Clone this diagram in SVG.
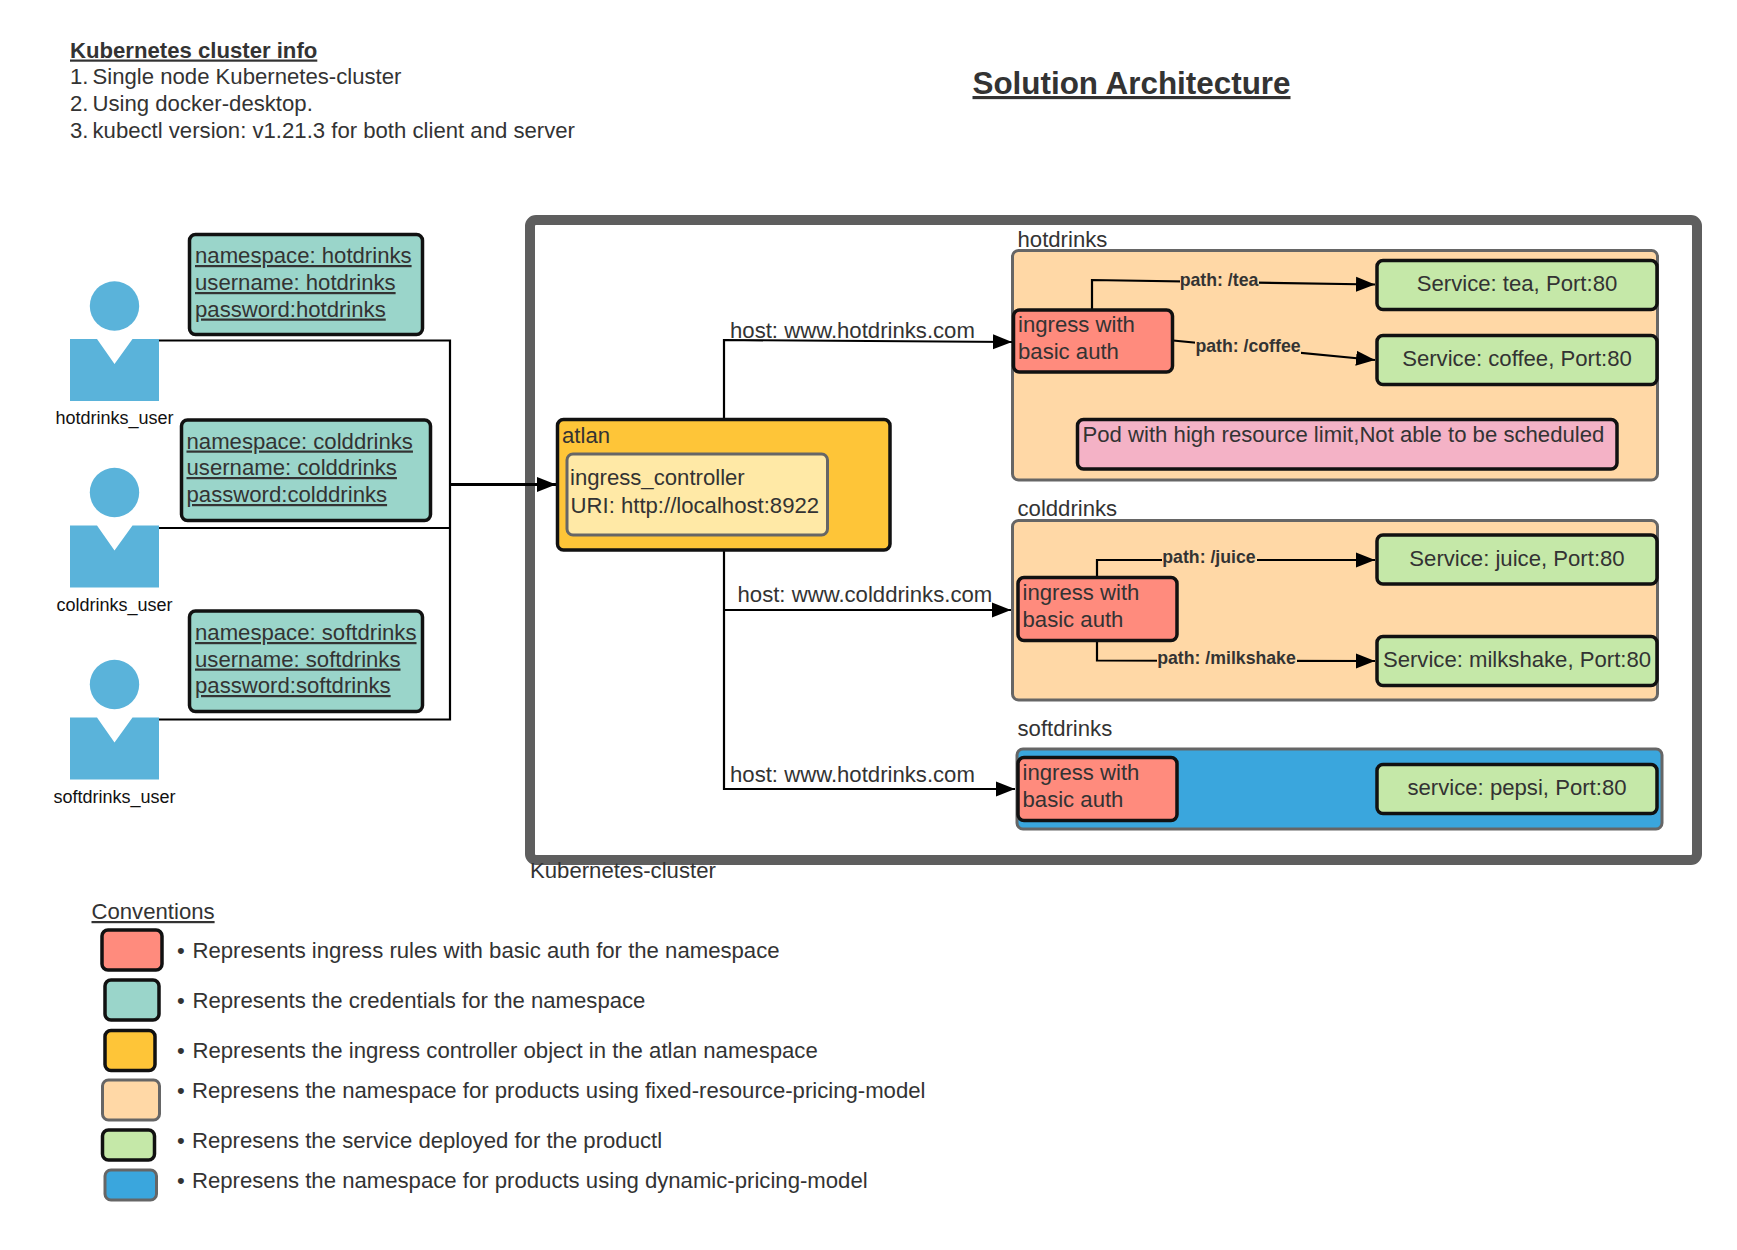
<svg xmlns="http://www.w3.org/2000/svg" width="1737" height="1250" viewBox="0 0 1737 1250">
<style>
text{font-family:"Liberation Sans",Arial,sans-serif;font-size:22.15px;fill:#333}
.u{text-decoration:underline}
.b{font-weight:700}
.c{text-anchor:middle}
.person{fill:#5ab3da;stroke:none}
.pl{font-size:18px;fill:#111;text-anchor:middle}
.path{font-size:17.7px;font-weight:700}
.cred{fill:#9ad5ca;stroke:#111;stroke-width:3.5}
.ing{fill:#ff8b7d;stroke:#111;stroke-width:3.5}
.svc{fill:#c5e8a8;stroke:#111;stroke-width:3.5}
.ns{fill:#ffd8a6;stroke:#666;stroke-width:3}
.blue{fill:#3aa6dd;stroke:#666;stroke-width:3}
.org{fill:#fec538;stroke:#111;stroke-width:3.5}
.line{fill:none;stroke:#000;stroke-width:2.2}
.lbg{fill:#ffd8a6;stroke:none}
</style>
<defs>
<marker id="a" markerUnits="userSpaceOnUse" markerWidth="20" markerHeight="16" refX="19" refY="8" orient="auto"><path d="M0 0.500L19 8L0 15.500Z" fill="#000"/></marker>
<symbol id="user" overflow="visible"><circle class="person" cx="44.5" cy="-33" r="24.7"/><path class="person" d="M0 0H27L44.5 25L62.5 0H89V62H0Z"/></symbol>
</defs>

<g id="info">
<text x="70" y="57.500" class="b u">Kubernetes cluster info</text>
<text x="70" y="84">1.</text><text x="92.500" y="84">Single node Kubernetes-cluster</text>
<text x="70" y="110.500">2.</text><text x="92.500" y="110.500">Using docker-desktop.</text>
<text x="70" y="137.500">3.</text><text x="92.500" y="137.500">kubectl version: v1.21.3 for both client and server</text>
</g>
<text id="title" x="1131.500" y="94" class="b u c" style="font-size:31.4px">Solution Architecture</text>

<g id="cluster"><rect x="530" y="220" width="1167" height="640" rx="6" fill="#fff" stroke="#5e5e5e" stroke-width="10"/>
<text x="530" y="877.500">Kubernetes-cluster</text></g>

<g id="hotdrinks-ns"><rect class="ns" x="1012.500" y="250.500" width="645" height="229.500" rx="6"/><text x="1017.500" y="247">hotdrinks</text></g>
<g id="colddrinks-ns"><rect class="ns" x="1012.500" y="520.500" width="645" height="179.500" rx="6"/><text x="1017.500" y="515.500">colddrinks</text></g>
<g id="softdrinks-ns"><rect class="blue" x="1017" y="749" width="645" height="80" rx="6"/><text x="1017.500" y="736">softdrinks</text></g>

<g id="connectors">
<path class="line" d="M159 340.500H450V719.500H159M159 528H450"/>
<path class="line" d="M450 484.500H556" style="stroke-width:3" marker-end="url(#a)"/>
<path class="line" d="M724 419V340L1012 342" marker-end="url(#a)"/>
<path class="line" d="M724 551V789H1015" marker-end="url(#a)"/>
<path class="line" d="M724 610H1011" marker-end="url(#a)"/>
<path class="line" d="M1092 309V280L1375 284.500" marker-end="url(#a)"/>
<path class="line" d="M1173 340.500L1375 360" marker-end="url(#a)"/>
<path class="line" d="M1097 577V560H1375" marker-end="url(#a)"/>
<path class="line" d="M1097 641V660.500L1375 661" marker-end="url(#a)"/>
<rect class="lbg" x="1180" y="270" width="79" height="20"/>
<rect class="lbg" x="1195" y="337" width="106" height="20"/>
<rect class="lbg" x="1162" y="549" width="95" height="20"/>
<rect class="lbg" x="1157" y="650" width="140" height="20"/>
<text class="path c" x="1219" y="285.500">path: /tea</text>
<text class="path c" x="1248" y="352">path: /coffee</text>
<text class="path c" x="1209" y="563">path: /juice</text>
<text class="path c" x="1226.500" y="664">path: /milkshake</text>
<text x="730" y="338">host: www.hotdrinks.com</text>
<text x="737.500" y="602">host: www.colddrinks.com</text>
<text x="730" y="782">host: www.hotdrinks.com</text>
</g>

<g id="hotdrinks_user"><use href="#user" x="70" y="339"/><text class="pl" x="114.500" y="424">hotdrinks_user</text></g>
<g id="coldrinks_user"><use href="#user" x="70" y="525.500"/><text class="pl" x="114.500" y="611">coldrinks_user</text></g>
<g id="softdrinks_user"><use href="#user" x="70" y="717.500"/><text class="pl" x="114.500" y="803">softdrinks_user</text></g>

<g id="cred-hot"><rect class="cred" x="189.500" y="234.500" width="233" height="100" rx="6"/>
<text class="u" x="195" y="263">namespace: hotdrinks</text><text class="u" x="195" y="290">username: hotdrinks</text><text class="u" x="195" y="316.500">password:hotdrinks</text></g>
<g id="cred-cold"><rect class="cred" x="181.500" y="420" width="249" height="100.500" rx="6"/>
<text class="u" x="186.500" y="448.500">namespace: colddrinks</text><text class="u" x="186.500" y="475">username: colddrinks</text><text class="u" x="186.500" y="502">password:colddrinks</text></g>
<g id="cred-soft"><rect class="cred" x="189.500" y="611" width="233" height="100.500" rx="6"/>
<text class="u" x="195" y="640">namespace: softdrinks</text><text class="u" x="195" y="666.500">username: softdrinks</text><text class="u" x="195" y="693">password:softdrinks</text></g>

<g id="atlan"><rect class="org" x="557.500" y="419.500" width="332.500" height="130.500" rx="6"/><text x="562" y="442.500">atlan</text></g>
<g id="ingress_controller"><rect x="567" y="454" width="260.500" height="81" rx="6" fill="#ffe9a6" stroke="#666" stroke-width="3"/>
<text x="570" y="485">ingress_controller</text><text x="570.500" y="512.500">URI: http://localhost:8922</text></g>

<g id="ingress-hot"><rect class="ing" x="1013.500" y="310" width="159" height="62" rx="6"/><text x="1018" y="331.500">ingress with</text><text x="1018" y="358.500">basic auth</text></g>
<g id="svc-tea"><rect class="svc" x="1377" y="260.500" width="280" height="49" rx="6"/><text class="c" x="1517" y="290.500">Service: tea, Port:80</text></g>
<g id="svc-coffee"><rect class="svc" x="1377" y="335.500" width="280" height="49" rx="6"/><text class="c" x="1517" y="366">Service: coffee, Port:80</text></g>
<g id="pod"><rect x="1077.500" y="419.500" width="539.500" height="49.500" rx="6" fill="#f4b2c6" stroke="#111" stroke-width="3.500"/><text x="1082.500" y="442">Pod with high resource limit,Not able to be scheduled</text></g>

<g id="ingress-cold"><rect class="ing" x="1018" y="577.500" width="159" height="63" rx="6"/><text x="1022.500" y="599.500">ingress with</text><text x="1022.500" y="626.500">basic auth</text></g>
<g id="svc-juice"><rect class="svc" x="1377" y="535" width="280" height="49" rx="6"/><text class="c" x="1517" y="566">Service: juice, Port:80</text></g>
<g id="svc-milkshake"><rect class="svc" x="1377" y="636.500" width="280" height="49" rx="6"/><text class="c" x="1517" y="667">Service: milkshake, Port:80</text></g>

<g id="ingress-soft"><rect class="ing" x="1018" y="757.500" width="159" height="63" rx="6"/><text x="1022.500" y="779.500">ingress with</text><text x="1022.500" y="806.500">basic auth</text></g>
<g id="svc-pepsi"><rect class="svc" x="1377" y="764.500" width="280" height="49" rx="6"/><text class="c" x="1517" y="795">service: pepsi, Port:80</text></g>

<g id="legend">
<text class="u" x="91.500" y="919">Conventions</text>
<rect class="ing" x="102" y="930" width="60" height="40" rx="6"/>
<rect class="cred" x="105" y="980" width="54" height="40" rx="6"/>
<rect class="org" x="105" y="1030.500" width="50" height="40" rx="6"/>
<rect class="ns" x="102.500" y="1080" width="57" height="40" rx="6"/>
<rect class="svc" x="102.500" y="1130" width="52" height="30" rx="6"/>
<rect class="blue" x="105" y="1170" width="51.500" height="30" rx="6"/>
<text x="177" y="957.500">•</text><text x="192.500" y="957.500">Represents ingress rules with basic auth for the namespace</text>
<text x="177" y="1007.500">•</text><text x="192.500" y="1007.500">Represents the credentials for the namespace</text>
<text x="177" y="1057.500">•</text><text x="192.500" y="1057.500">Represents the ingress controller object in the atlan namespace</text>
<text x="177" y="1097.500">•</text><text x="192" y="1097.500">Represens the namespace for products using fixed-resource-pricing-model</text>
<text x="177" y="1147.500">•</text><text x="192" y="1147.500">Represens the service deployed for the productl</text>
<text x="177" y="1187.500">•</text><text x="192" y="1187.500">Represens the namespace for products using dynamic-pricing-model</text>
</g>
</svg>
